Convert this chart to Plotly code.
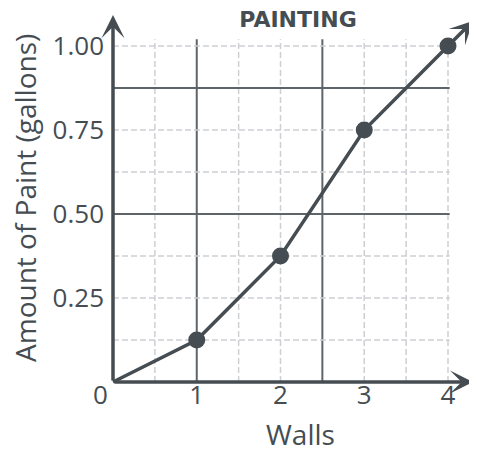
import plotly.graph_objects as go

# ---- data ----
walls = [0, 1, 2, 3, 4]
paint = [0, 0.125, 0.375, 0.75, 1.0]
marker_walls = [1, 2, 3, 4]
marker_paint = [0.125, 0.375, 0.75, 1.0]
x_tickvals = [1, 2, 3, 4]
x_ticktext = ["1", "2", "3", "4"]
y_tickvals = [0.25, 0.5, 0.75, 1.0]
y_ticktext = ["0.25", "0.50", "0.75", "1.00"]
x_grid = [0.5, 1, 1.5, 2, 2.5, 3, 3.5, 4]
y_grid = [0.125, 0.25, 0.375, 0.5, 0.625, 0.75, 0.875, 1.0]
dark_x_grid = [1, 2.5]
dark_y_grid = [0.5, 0.875]
line_ext = (4.3, 1.075)   # arrow continuation of the line
x_arrow_end = 4.3
y_arrow_end = 1.092

INK = "#454d52"
GRID = "#cdd0d3"
DARK = "#5e656a"
FONT = "Open Sans, Noto Sans, sans-serif"

# layout geometry (pixels, figure coords; page body adds an 8px offset)
OFF = 8
W, H = 477 - OFF, 451 - OFF
L, R, T, B = 100, 2, 0, 62
PX_X, PX_Y = 83.75, 336.0
ORIG_X, ORIG_Y = 113 - OFF, 382 - OFF
plot_w = W - L - R
plot_h = H - T - B
x_range = [(L - ORIG_X) / PX_X, (W - R - ORIG_X) / PX_X]
y_range = [(ORIG_Y - (H - B)) / PX_Y, (ORIG_Y - T) / PX_Y]


def px_to_paper(px, py):
    px -= OFF
    py -= OFF
    return (px - L) / plot_w, ((H - B) - py) / plot_h


fig = go.Figure()

fig.add_trace(go.Scatter(
    x=walls, y=paint, mode="lines",
    line=dict(color=INK, width=3.5), hoverinfo="skip", showlegend=False))
fig.add_trace(go.Scatter(
    x=marker_walls, y=marker_paint, mode="markers",
    marker=dict(color=INK, size=17), showlegend=False, cliponaxis=False))

shapes = []
for gx in x_grid:
    dark = gx in dark_x_grid
    shapes.append(dict(type="line", xref="x", yref="y", x0=gx, x1=gx, y0=0, y1=1.02,
                       line=dict(color=DARK if dark else GRID, width=2 if dark else 1.5,
                                 dash="solid" if dark else "6px,3px"), layer="below"))
for gy in y_grid:
    dark = gy in dark_y_grid
    shapes.append(dict(type="line", xref="x", yref="y", x0=0, x1=4.02, y0=gy, y1=gy,
                       line=dict(color=DARK if dark else GRID, width=2 if dark else 1.5,
                                 dash="solid" if dark else "6px,3px"), layer="below"))

wx, wy = px_to_paper(300, 434)
tx, ty = px_to_paper(25, 198)

arrow_style = dict(text="", showarrow=True, arrowhead=3, arrowwidth=3.5,
                   arrowsize=1.1, arrowcolor=INK, xref="x", yref="y",
                   axref="x", ayref="y")

annotations = [
    # x axis arrow
    dict(x=x_arrow_end, y=0, ax=0, ay=0, **arrow_style),
    # y axis arrow
    dict(x=0, y=y_arrow_end, ax=0, ay=0, **arrow_style),
    # line continuation arrow
    dict(x=line_ext[0], y=line_ext[1], ax=walls[-1], ay=paint[-1], **arrow_style),
    # origin label
    dict(x=0, y=0, xref="x", yref="y", text="0", showarrow=False,
         xanchor="center", yanchor="middle", xshift=-13, yshift=-12,
         font=dict(family=FONT, size=26, color=INK)),
    # axis titles
    dict(x=wx, y=wy, xref="paper", yref="paper", text="Walls", showarrow=False,
         xanchor="center", yanchor="middle", font=dict(family=FONT, size=28, color=INK)),
    dict(x=tx, y=ty, xref="paper", yref="paper", text="Amount of Paint (gallons)",
         showarrow=False, textangle=-90, xanchor="center", yanchor="middle",
         font=dict(family=FONT, size=28, color=INK)),
]

fig.update_layout(
    width=W, height=H,
    margin=dict(l=L, r=R, t=T, b=B),
    paper_bgcolor="white", plot_bgcolor="white",
    shapes=shapes, annotations=annotations,
    title=dict(text="<b>PAINTING</b>", x=(298 - OFF) / W, xref="container",
               xanchor="center", y=1 - (19 - OFF) / H, yref="container",
               yanchor="middle",
               font=dict(family="DejaVu Sans, sans-serif", size=22, color=INK)),
    xaxis=dict(range=x_range, tickvals=x_tickvals, ticktext=x_ticktext,
               showgrid=False, zeroline=False, showline=False, automargin=False,
               ticks="", ticklabelstandoff=-12,
               tickfont=dict(family=FONT, size=26, color=INK)),
    yaxis=dict(range=y_range, tickvals=y_tickvals, ticktext=y_ticktext,
               showgrid=False, zeroline=False, showline=False, automargin=False,
               ticks="", ticklabelstandoff=3,
               tickfont=dict(family=FONT, size=26, color=INK)),
)

fig.write_html("out.html")
